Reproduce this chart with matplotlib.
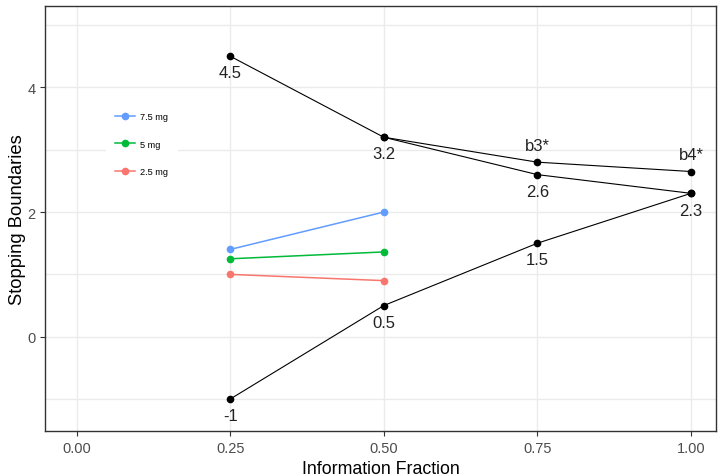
import matplotlib
matplotlib.use("Agg")
import matplotlib.pyplot as plt

plt.rcParams["font.family"] = ["Liberation Sans", "DejaVu Sans"]

# ── Data ──────────────────────────────────────
info_frac = [0.25, 0.50, 0.75, 1.00]
upper = [4.5, 3.2, 2.6, 2.3]
lower = [-1.0, 0.5, 1.5, 2.3]
upper_labels = ["4.5", "3.2", "2.6", "2.3"]
lower_labels = ["-1", "0.5", "1.5", ""]

star_x = [0.50, 0.75, 1.00]
star_y = [3.2, 2.8, 2.65]
star_labels = ["", "b3*", "b4*"]

dose_x = [0.25, 0.50]
doses = ["7.5 mg", "5 mg", "2.5 mg"]
dose_vals = [[1.4, 2.0], [1.25, 1.36], [1.0, 0.9]]
dose_colors = ["#619CFF", "#00BA38", "#F8766D"]

# ── Plot ──────────────────────────────────────
fig = plt.figure(figsize=(7.18, 4.77), dpi=100)
ax = fig.add_axes([0.0627, 0.0937, 0.9346, 0.891])

grid_c = "#EBEBEB"
for yv in [-1, 0, 1, 2, 3, 4, 5]:
    ax.axhline(yv, color=grid_c, lw=1.0, zorder=0)
for xv in [0, 0.25, 0.5, 0.75, 1.0]:
    ax.axvline(xv, color=grid_c, lw=1.0, zorder=0)

for name, vals, col in zip(doses, dose_vals, dose_colors):
    ax.plot(dose_x, vals, color=col, lw=1.1, marker="o", ms=4.5, label=name, zorder=2)

for xs, ys in [(info_frac, upper), (info_frac, lower), (star_x, star_y)]:
    ax.plot(xs, ys, color="black", lw=0.8, marker="o", ms=4.5, zorder=3)

for xv, yv, lab in zip(info_frac, upper, upper_labels):
    ax.annotate(lab, (xv, yv), xytext=(0, -12), textcoords="offset points",
                ha="center", va="center", fontsize=12, color="#222222")
for xv, yv, lab in zip(info_frac, lower, lower_labels):
    ax.annotate(lab, (xv, yv), xytext=(0, -12), textcoords="offset points",
                ha="center", va="center", fontsize=12, color="#222222")
for xv, yv, lab in zip(star_x, star_y, star_labels):
    ax.annotate(lab, (xv, yv), xytext=(0, 12), textcoords="offset points",
                ha="center", va="center", fontsize=12, color="#222222")

ax.set_xlim(-0.0513, 1.0408)
ax.set_ylim(-1.517, 5.30)
ax.set_xticks([0, 0.25, 0.5, 0.75, 1.0])
ax.set_xticklabels(["0.00", "0.25", "0.50", "0.75", "1.00"])
ax.set_yticks([0, 2, 4])
ax.tick_params(colors="#333333", labelcolor="#4D4D4D", labelsize=10.5, length=3.5, width=0.8)
for sp in ax.spines.values():
    sp.set_color("#333333")
    sp.set_linewidth(1.0)

ax.set_xlabel("Information Fraction", fontsize=12.8, va="center")
ax.set_ylabel("Stopping Boundaries", fontsize=13.2, va="center")
ax.xaxis.set_label_coords(0.5, -0.087)
ax.yaxis.set_label_coords(-0.041, 0.5)

leg = ax.legend(loc="center left", bbox_to_anchor=(0.091, 0.676), borderaxespad=0,
                fontsize=6.6, frameon=True, facecolor="white", edgecolor="none",
                framealpha=1, fancybox=False, handlelength=2.2, handletextpad=0.55,
                labelspacing=2.05, borderpad=1.0, numpoints=1)
leg.set_zorder(1)

plt.savefig("out.png", dpi=100)
